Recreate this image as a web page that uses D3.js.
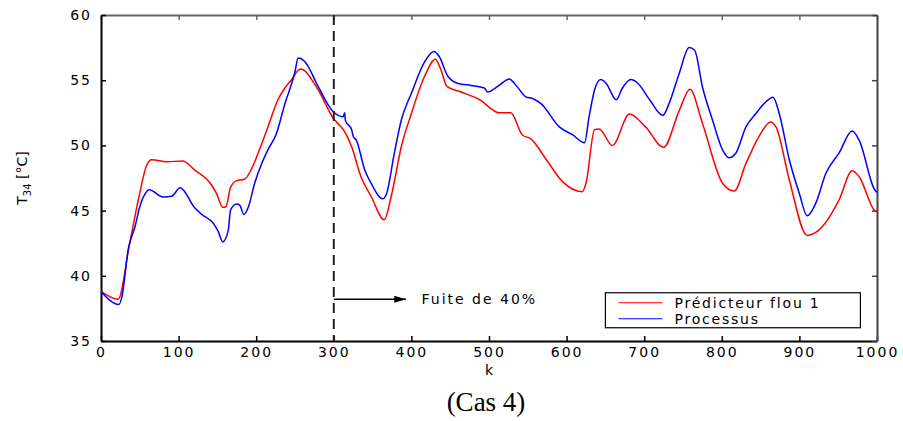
<!DOCTYPE html>
<html>
<head>
<meta charset="utf-8">
<script src="https://cdn.jsdelivr.net/npm/d3@7"></script>
<style>
  body { margin: 0; background: #fff; }
  svg text { font-family: "DejaVu Sans", "Liberation Sans", sans-serif; }
</style>
</head>
<body>
<div id="chart"></div>
<script>
// predicteur flou 1 (red)
var predK = [0, 22, 37, 48, 59, 65, 85, 105, 121, 142, 149, 157, 161, 167, 175, 185, 194, 205, 215, 228, 237, 245, 257,
             280, 299, 314, 323, 335, 348, 365, 374, 387, 400, 417, 431, 438, 446, 464, 488, 513, 528, 543, 554, 574,
             595, 620, 625, 636, 642, 659, 681, 702, 725, 745, 759, 775, 801, 816, 831, 848, 863, 870, 887, 910, 925,
             951, 968, 977, 997, 1000];
var predT = [38.8, 38.2, 42.5, 45.8, 48.5, 48.9, 48.75, 48.8, 48.1, 47.0, 46.3, 45.25, 45.3, 46.8, 47.3, 47.4, 48.2, 49.8,
             51.4, 53.5, 54.4, 55.0, 55.85, 54.25, 52.1, 51.05, 49.9, 47.6, 46.1, 44.3, 46.1, 49.9, 52.45, 55.3, 56.6,
             55.8, 54.5, 54.1, 53.5, 52.5, 52.5, 50.8, 50.5, 48.9, 47.2, 46.45, 47.1, 51.2, 51.25, 50.0, 52.4, 51.4,
             49.85, 52.65, 54.3, 51.7, 47.1, 46.5, 48.6, 50.7, 51.8, 51.4, 47.35, 43.1, 43.5, 45.8, 48.05, 47.6, 45.0, 44.9];

// processus (blue)
var procK = [0, 23, 27, 35, 44, 50, 57, 62, 80, 91, 102, 121, 130, 145, 151, 157, 164, 167, 175, 179, 184, 190, 198, 207,
             215, 226, 237, 250, 254, 263, 280, 299, 312, 314, 315, 323, 325, 329, 340, 348, 363, 368, 378, 387, 400,
             417, 429, 436, 447, 460, 477, 494, 498, 513, 526, 535, 548, 556, 567, 591, 608, 623, 629, 636, 644, 651,
             664, 672, 683, 692, 707, 724, 732, 745, 758, 765, 775, 788, 801, 809, 818, 831, 844, 857, 866, 874, 887,
             900, 910, 921, 934, 951, 968, 977, 997, 1000];
var procT = [38.8, 37.8, 38.4, 42.0, 43.8, 45.3, 46.3, 46.6, 46.05, 46.1, 46.75, 45.2, 44.7, 44.0, 43.4, 42.6, 43.5, 45.05,
             45.5, 45.4, 44.7, 45.3, 47.1, 48.6, 49.65, 50.9, 53.2, 55.65, 56.7, 56.4, 54.5, 52.6, 52.2, 52.5, 51.9,
             51.2, 50.7, 50.4, 48.1, 47.1, 45.9, 46.3, 49.4, 51.95, 54.0, 56.4, 57.2, 56.8, 55.3, 54.75, 54.6, 54.4,
             54.1, 54.6, 55.1, 54.6, 53.7, 53.6, 53.2, 51.4, 50.8, 50.2, 52.2, 54.25, 55.05, 54.75, 53.5, 54.4, 55.05,
             54.75, 53.5, 52.3, 53.2, 55.5, 57.5, 57.3, 54.5, 51.95, 49.65, 49.05, 49.4, 51.4, 52.45, 53.35, 53.7,
             52.45, 48.9, 46.3, 44.6, 45.55, 47.85, 49.4, 51.1, 50.4, 46.6, 46.4];

var xTicks = [0, 100, 200, 300, 400, 500, 600, 700, 800, 900, 1000];
var yTicks = [35, 40, 45, 50, 55, 60];
var leakK = 300;
var legendNames = ['Prédicteur flou 1', 'Processus'];
var seriesColors = ['#ff0000', '#0000ff'];

var width = 903, height = 421;
var margin = { top: 15, right: 26, bottom: 80, left: 101 };
var innerW = width - margin.left - margin.right;
var innerH = height - margin.top - margin.bottom;

var svg = d3.select('#chart').append('svg')
    .attr('width', width).attr('height', height);

var g = svg.append('g')
    .attr('transform', 'translate(' + margin.left + ',' + margin.top + ')');

var x = d3.scaleLinear().domain([0, 1000]).range([0, innerW]);
var y = d3.scaleLinear().domain([35, 60]).range([innerH, 0]);

// frame with inward ticks on all four sides
function styleAxis(sel, color) {
    sel.select('.domain').attr('stroke', color).attr('stroke-width', 2);
    sel.selectAll('.tick line').attr('stroke', color).attr('stroke-width', 1.5);
    sel.selectAll('.tick text')
       .attr('fill', '#000')
       .style('font-size', '14px')
       .style('letter-spacing', '2px');
}

g.append('g').attr('transform', 'translate(0,' + innerH + ')')
 .call(d3.axisBottom(x).tickValues(xTicks).tickFormat(d3.format('d'))
        .tickSizeInner(-5).tickSizeOuter(0).tickPadding(6))
 .call(styleAxis, '#000');

g.append('g')
 .call(d3.axisTop(x).tickValues(xTicks).tickSizeInner(-5).tickSizeOuter(0).tickFormat(''))
 .call(styleAxis, '#666');

g.append('g')
 .call(d3.axisLeft(y).tickValues(yTicks).tickSizeInner(-5).tickSizeOuter(0).tickPadding(9))
 .call(styleAxis, '#000');

g.append('g').attr('transform', 'translate(' + innerW + ',0)')
 .call(d3.axisRight(y).tickValues(yTicks).tickSizeInner(-5).tickSizeOuter(0).tickFormat(''))
 .call(styleAxis, '#444');

// curves
var line = d3.line()
    .curve(d3.curveMonotoneX)
    .x(function(d) { return x(d[0]); })
    .y(function(d) { return y(d[1]); });

var series = [d3.zip(predK, predT), d3.zip(procK, procT)];
series.forEach(function(s, i) {
    g.append('path')
     .datum(s)
     .attr('fill', 'none')
     .attr('stroke', seriesColors[i])
     .attr('stroke-width', 1.5)
     .attr('stroke-linejoin', 'round')
     .attr('d', line);
});

// leak marker
g.append('line')
 .attr('x1', x(leakK)).attr('x2', x(leakK))
 .attr('y1', 0).attr('y2', innerH)
 .attr('stroke', '#222').attr('stroke-width', 2)
 .attr('stroke-dasharray', '10,6');

var arrowY = y(38.2);
svg.append('defs').append('marker')
   .attr('id', 'arrow').attr('viewBox', '0 0 10 6')
   .attr('refX', 10).attr('refY', 3)
   .attr('markerWidth', 16).attr('markerHeight', 7)
   .attr('markerUnits', 'userSpaceOnUse')
   .attr('orient', 'auto')
   .append('path').attr('d', 'M0,0 L10,3 L0,6 Z').attr('fill', '#000');

g.append('line')
 .attr('x1', x(leakK)).attr('x2', x(393))
 .attr('y1', arrowY).attr('y2', arrowY)
 .attr('stroke', '#000').attr('stroke-width', 1.5)
 .attr('marker-end', 'url(#arrow)');

g.append('text')
 .attr('x', x(413)).attr('y', arrowY + 5)
 .style('font-size', '14px').style('letter-spacing', '2px')
 .text('Fuite de 40%');

// legend
var legend = g.append('g').attr('transform', 'translate(' + x(650) + ',' + y(38.7) + ')');
legend.append('rect')
 .attr('width', 255).attr('height', 35)
 .attr('fill', '#fff').attr('stroke', '#000').attr('stroke-width', 1.2);
legendNames.forEach(function(name, i) {
    var ly = 10 + i * 16;
    legend.append('line')
     .attr('x1', 13).attr('x2', 57).attr('y1', ly).attr('y2', ly)
     .attr('stroke', seriesColors[i]).attr('stroke-width', 1.2);
    legend.append('text')
     .attr('x', 69).attr('y', ly + 5)
     .style('font-size', '14px').style('letter-spacing', '1.8px')
     .text(name);
});

// axis titles
svg.append('text')
 .attr('x', margin.left + x(500)).attr('y', 375)
 .attr('text-anchor', 'middle')
 .style('font-size', '14px')
 .text('k');

var ylab = svg.append('text')
 .attr('transform', 'translate(27,178) rotate(-90)')
 .attr('text-anchor', 'middle')
 .style('font-size', '14px');
ylab.append('tspan').text('T');
ylab.append('tspan').attr('dy', 4).style('font-size', '10px').text('34');
ylab.append('tspan').attr('dy', -4).text(' [°C]');

svg.append('text')
 .attr('x', 486).attr('y', 411)
 .attr('text-anchor', 'middle')
 .style('font-family', '"Liberation Serif", "Times New Roman", serif')
 .style('font-size', '27px')
 .text('(Cas 4)');
</script>
</body>
</html>
